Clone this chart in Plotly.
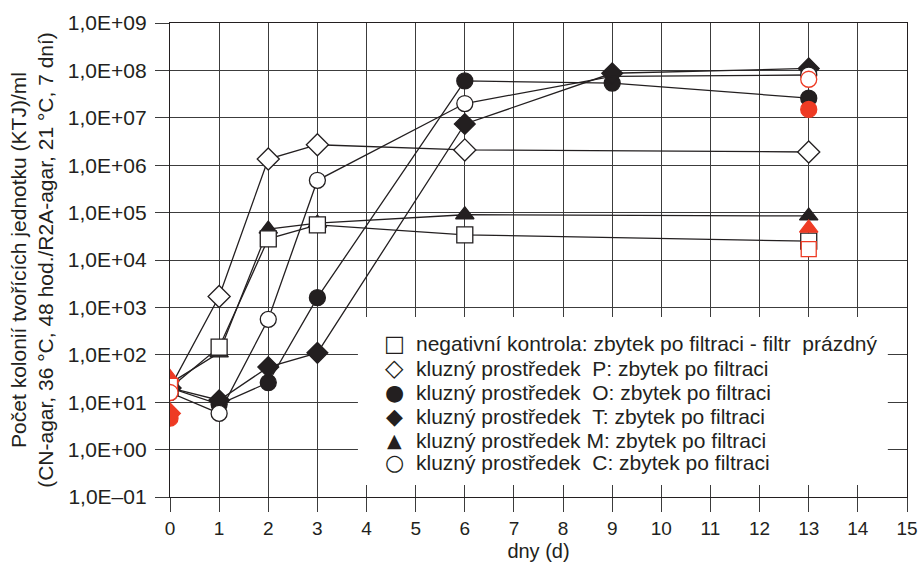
import plotly.graph_objects as go

# ---------------- data ----------------
days_full = [0, 1, 2, 3, 6, 13]
days_9 = [0, 1, 2, 3, 6, 9, 13]

neg_kontrola = [20, 145, 2.8e4, 5.5e4, 3.4e4, 2.5e4]          # square
P_vals = [20, 1.7e3, 1.35e6, 2.7e6, 2.1e6, 1.9e6]              # open diamond
O_vals = [20, 9, 26, 1.6e3, 6.0e7, 5.4e7, 2.6e7]               # filled circle
T_vals = [20, 11, 55, 110, 7.4e6, 8.7e7, 1.1e8]                # filled diamond
M_vals = [25, 110, 4.5e4, 6.0e4, 9.0e4, 8.5e4]                 # filled triangle
C_vals = [16, 5.8, 560, 4.8e5, 2.0e7, 7.5e7, 8.0e7]            # open circle

# R2A-agar (red) points
red_days = [0, 13]
red_square = [22, 1.7e4]
red_O = [4.6, 1.5e7]
red_T = [5.8]
red_M = [33, 4.7e4]
red_C = [16, 6.5e7]

legend_labels = [
    "negativní kontrola: zbytek po filtraci - filtr\u00a0\u00a0prázdný",
    "kluzný prostředek\u00a0\u00a0P: zbytek po filtraci",
    "kluzný prostředek\u00a0\u00a0O: zbytek po filtraci",
    "kluzný prostředek\u00a0\u00a0T: zbytek po filtraci",
    "kluzný prostředek M: zbytek po filtraci",
    "kluzný prostředek\u00a0\u00a0C: zbytek po filtraci",
]
legend_glyphs = ["\u25a1", "\u25c7", "\u25cf", "\u25c6", "\u25b2", "\u25cb"]

y_tickvals = [1e-1, 1e0, 1e1, 1e2, 1e3, 1e4, 1e5, 1e6, 1e7, 1e8, 1e9]
y_ticktext = ["1,0E\u201301", "1,0E+00", "1,0E+01", "1,0E+02", "1,0E+03", "1,0E+04",
              "1,0E+05", "1,0E+06", "1,0E+07", "1,0E+08", "1,0E+09"]
x_tickvals = list(range(0, 16))

# ---------------- style ----------------
BLACK = "#231f20"
GRID = "#3c3c3c"
RED = "#ee3b24"
LW = 1.3
FONT = "Liberation Sans, Arial, sans-serif"

fig = go.Figure()

styles = {
    "M": ("triangle-up", BLACK, 16),
    "neg": ("square", "white", 16),
    "P": ("diamond", "white", 17),
    "O": ("circle", BLACK, 16),
    "T": ("diamond", BLACK, 16),
    "C": ("circle", "white", 16),
}
data = {
    "M": (days_full, M_vals),
    "neg": (days_full, neg_kontrola),
    "P": (days_full, P_vals),
    "O": (days_9, O_vals),
    "T": (days_9, T_vals),
    "C": (days_9, C_vals),
}
for key in ["M", "neg", "P", "O", "T", "C"]:
    xs, ys = data[key]
    sym, fill, sz = styles[key]
    # open circle C at day 9 is hidden behind the T/O markers in the original
    sizes = [0 if (key == "C" and d == 9) else sz for d in xs]
    fig.add_trace(go.Scatter(
        x=xs, y=ys, mode="lines+markers", showlegend=False,
        line=dict(color=BLACK, width=LW),
        marker=dict(symbol=sym, size=sizes, color=fill, opacity=1,
                    line=dict(color=BLACK, width=LW)),
    ))

red_series = [
    (red_days, red_O, "circle", RED, 16),
    ([0], red_T, "diamond", RED, 16),
    (red_days, red_M, "triangle-up", RED, 16),
    (red_days, red_square, "square", "white", 15),
    (red_days, red_C, "circle", "white", 16),
]
for xs, ys, sym, fill, sz in red_series:
    fig.add_trace(go.Scatter(
        x=xs, y=ys, mode="markers", showlegend=False,
        marker=dict(symbol=sym, size=sz, color=fill, opacity=1,
                    line=dict(color=RED, width=LW)),
    ))

# ---------------- legend (drawn manually for tight row spacing) ----------------
fig.add_shape(
    type="rect", xref="paper", yref="paper",
    x0=0.255, x1=0.974, y0=0.0253, y1=0.38,
    fillcolor="white", line=dict(width=0), layer="above",
)
leg_marker_x = 0.305
leg_text_x = 0.333
leg_rows_y = [0.323, 0.272, 0.2215, 0.169, 0.120, 0.072]
glyph_sizes = [22, 24, 22, 22, 19, 22]

for glyph, gs, label, ly in zip(legend_glyphs, glyph_sizes, legend_labels, leg_rows_y):
    fig.add_annotation(
        x=leg_marker_x, y=ly, xref="paper", yref="paper", text=glyph,
        showarrow=False, xanchor="center", yanchor="middle", borderpad=0,
        font=dict(family="DejaVu Sans", size=gs, color=BLACK),
    )
    fig.add_annotation(
        x=leg_text_x, y=ly, xref="paper", yref="paper", text=label,
        showarrow=False, xanchor="left", yanchor="middle", borderpad=0,
        font=dict(family=FONT, size=21, color=BLACK),
    )

axis_common = dict(
    showgrid=True, gridcolor=GRID, gridwidth=LW,
    ticks="outside", ticklen=14, tickwidth=LW, tickcolor=GRID,
    showline=True, linecolor=BLACK, linewidth=LW, mirror=True,
    zeroline=False,
)

fig.update_layout(
    xaxis=dict(
        range=[0, 15], tickvals=x_tickvals, ticktext=[str(v) for v in x_tickvals],
        tickfont=dict(family=FONT, size=19, color=BLACK),
        title=dict(text="dny (d)", standoff=6,
                   font=dict(family=FONT, size=20, color=BLACK)),
        **axis_common,
    ),
    yaxis=dict(
        type="log", range=[-1, 9], tickvals=y_tickvals, ticktext=y_ticktext,
        tickfont=dict(family=FONT, size=21, color=BLACK),
        ticklabelstandoff=4,
        title=dict(text="Počet kolonií tvořících jednotku (KTJ)/ml<br>(CN-agar, 36 °C, 48 hod./R2A-agar, 21 °C, 7 dní)",
                   standoff=8,
                   font=dict(family=FONT, size=21, color=BLACK)),
        **axis_common,
    ),
    width=922, height=562,
    margin=dict(l=170, r=15, t=23, b=65, autoexpand=False),
    plot_bgcolor="white", paper_bgcolor="white",
    font=dict(family=FONT, size=19, color=BLACK),
    showlegend=False,
)

fig.write_html("out.html")
